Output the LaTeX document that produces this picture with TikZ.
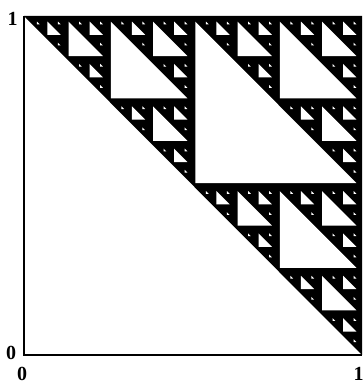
\documentclass[tikz,border=0pt]{standalone}
\usepackage{fontspec}
\setmainfont{Liberation Serif}
\def\dd{0.0068}
\def\ee{0.0164}
\newcommand\sierHole[4]{%
  \fill[hole] ({#1-#3/2+\dd},{#2-#3/2+\dd}) -- ({#1-\ee},{#2-#3/2+\dd}) -- ({#1-#3/2+\dd},{#2-\ee}) -- cycle;
  \ifnum#4>0
    \pgfmathsetmacro\sh{#3/2}%
    \pgfmathsetmacro\sx{#1-\sh}%
    \pgfmathsetmacro\sy{#2-\sh}%
    \edef\snext{\noexpand\sierHole{#1}{#2}{\sh}{\the\numexpr#4-1\relax}\noexpand\sierHole{\sx}{#2}{\sh}{\the\numexpr#4-1\relax}\noexpand\sierHole{#1}{\sy}{\sh}{\the\numexpr#4-1\relax}}%
    \snext
  \fi}
\begin{document}
\begin{tikzpicture}[
  hole/.style={fill=white},
  lbl/.style={font=\fontsize{20}{20}\selectfont\bfseries, inner sep=0pt},
  axis/.style={line width=1.8pt}]
\useasboundingbox (0pt,0pt) rectangle (363pt,383pt);
\begin{scope}[shift={(24pt,28pt)}, x=338pt, y=339pt]
  \coordinate (o) at (0,0);
  \coordinate (tl) at (0,1);
  \coordinate (tr) at (1,1);
  \coordinate (br) at (1,0);
  \fill[black] (tl) -- (tr) -- (br) -- cycle;
  \sierHole{1}{1}{1}{4}
  \draw[axis] (tl) -- (o) -- (br);
\end{scope}
\node[lbl] (y1) at (12.5pt,364pt) {1};
\node[lbl] (y0) at (11pt,30pt) {0};
\node[lbl] (x0) at (22pt,9.5pt) {0};
\node[lbl] (x1) at (358.5pt,9.5pt) {1};
\end{tikzpicture}
\end{document}
